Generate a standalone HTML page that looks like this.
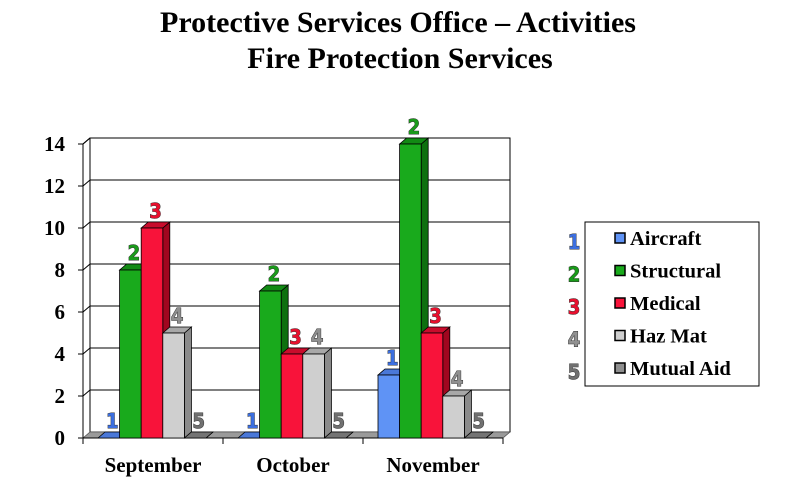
<!DOCTYPE html>
<html><head><meta charset="utf-8"><style>
body{margin:0;background:#fff;}
svg{display:block;font-family:"Liberation Serif",serif;}
.num{font-family:"Liberation Sans Narrow","DejaVu Sans Condensed","Liberation Sans",sans-serif;font-weight:bold;font-size:20px;stroke-width:0.9;paint-order:stroke;}
</style></head><body>
<svg id="chart" width="792" height="499" viewBox="0 0 792 499" xmlns="http://www.w3.org/2000/svg">
<text x="398" y="32" text-anchor="middle" font-size="30" font-weight="bold">Protective Services Office – Activities</text>
<text x="400" y="68" text-anchor="middle" font-size="30" font-weight="bold">Fire Protection Services</text>
<g id="plot"></g>
<g id="legend"></g>
</svg>
<script>
const categories=["September","October","November"];
const seriesNames=["Aircraft","Structural","Medical","Haz Mat","Mutual Aid"];
const aircraft=[0,0,3];
const structural=[8,7,14];
const medical=[10,4,5];
const hazMat=[5,4,2];
const mutualAid=[0,0,0];
const yTicks=[0,2,4,6,8,10,12,14];
const series=[aircraft,structural,medical,hazMat,mutualAid];
const fronts=["#5f93f5","#19aa1c","#f8133a","#cfcfcf","#8f8f8f"];
const sides=["#3a62b8","#0e700f","#a0061f","#8a8a8a","#5e5e5e"];
const tops=["#4a78d8","#128a14","#c80c2c","#a8a8a8","#747474"];
const labelCol=["#3c6fe0","#1a9a1a","#e8102e","#909090","#707070"];
const NS="http://www.w3.org/2000/svg";
const X0=83,X1=503,Y0=438,PU=21,DX=7,DY=-6,BW=21.6,PAD=15;
const catW=(X1-X0)/categories.length;
function y(v){return Y0-v*PU;}
function xb(c,s){return X0+c*catW+PAD+s*BW;}
function mk(tag,attrs,parent){const e=document.createElementNS(NS,tag);for(const k in attrs)e.setAttribute(k,attrs[k]);parent.appendChild(e);return e;}
const plot=document.getElementById('plot');
let w=mk('rect',{x:X0+DX,y:y(14)+DY,width:X1-X0,height:14*PU,fill:"#fff",stroke:"#000","stroke-width":1},plot);

let sw=mk('path',{d:`M${X0} ${Y0}L${X0} ${y(14)}L${X0+DX} ${y(14)+DY}`,fill:"none",stroke:"#000"},plot);

yTicks.forEach(t=>{
 if(t>0){const g=mk('path',{d:`M${X0} ${y(t)}L${X0+DX} ${y(t)+DY}L${X1+DX} ${y(t)+DY}`,fill:"none",stroke:"#000","stroke-width":1},plot);
 }
 const tk=mk('line',{x1:X0-5,y1:y(t),x2:X0,y2:y(t),stroke:"#000"},plot);
 
 const lb=mk('text',{x:X0-18,y:y(t)+7,"text-anchor":"end","font-size":21,"font-weight":"bold"},plot);
 lb.textContent=t;
 
});
let fl=mk('path',{d:`M${X0} ${Y0}L${X0+DX} ${Y0+DY}L${X1+DX} ${Y0+DY}L${X1} ${Y0}Z`,fill:"#9a9a9a",stroke:"#555","stroke-width":0.8},plot);

let ax=mk('line',{x1:X0,y1:Y0,x2:X1,y2:Y0,stroke:"#000"},plot);

for(let c=0;c<=categories.length;c++){
 const t=mk('line',{x1:X0+c*catW,y1:Y0,x2:X0+c*catW,y2:Y0+6,stroke:"#000"},plot);
 
}
categories.forEach((cat,c)=>{
 const t=mk('text',{x:X0+(c+0.5)*catW,y:472,"text-anchor":"middle","font-size":21,"font-weight":"bold"},plot);
 t.textContent=cat;
 
 series.forEach((arr,s)=>{
  const v=arr[c],x=xb(c,s),yt=y(v);
  const g=mk('g',{},plot);
  
  
  mk('path',{d:`M${x+BW} ${Y0}L${x+BW+DX} ${Y0+DY}L${x+BW+DX} ${yt+DY}L${x+BW} ${yt}Z`,fill:sides[s],stroke:"#000","stroke-width":0.8},g);
  mk('path',{d:`M${x} ${yt}L${x+DX} ${yt+DY}L${x+BW+DX} ${yt+DY}L${x+BW} ${yt}Z`,fill:tops[s],stroke:"#000","stroke-width":0.8},g);
  if(v>0)mk('rect',{x:x,y:yt,width:BW,height:Y0-yt,fill:fronts[s],stroke:"#000","stroke-width":0.8},g);
  const n=mk('text',{x:x+BW/2+DX/2,y:yt+DY-4,"text-anchor":"middle",class:"num",fill:labelCol[s],stroke:"#333"},plot);
  n.textContent=s+1;
  
 });
});
const leg=document.getElementById('legend');
let lbx=mk('rect',{x:585,y:222,width:174,height:164,fill:"#fff",stroke:"#000","stroke-width":1},leg);

seriesNames.forEach((nm,s)=>{
 const yy=238+s*32.5;
 const g=mk('g',{},leg);
 
 const d=mk('text',{x:574,y:yy+11,"text-anchor":"middle",class:"num",fill:labelCol[s],stroke:"#333"},g);d.textContent=s+1;
 mk('rect',{x:615,y:yy-5,width:10,height:10,fill:fronts[s],stroke:"#000","stroke-width":1.5},g);
 const t=mk('text',{x:630,y:yy+7,"font-size":20.5,"font-weight":"bold"},g);t.textContent=nm;
});
</script>
</body></html>
